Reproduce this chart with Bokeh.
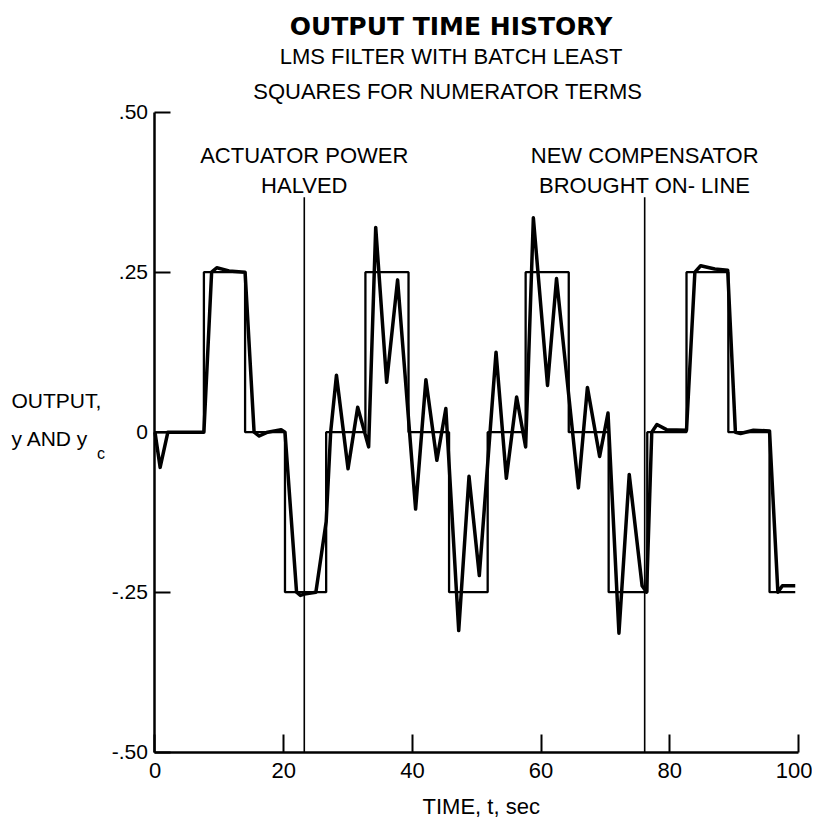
from bokeh.plotting import figure
from bokeh.models import Range1d, FixedTicker, ColumnDataSource
from bokeh.embed import file_html
from bokeh.resources import INLINE
from bokeh.core.properties import value

# ---- data ----
# command (y_c): value holds from each time until the next
cmd_t = [0, 7.6, 14.0, 20.2, 26.6, 32.7, 39.4, 45.7, 51.7, 57.6, 64.3, 70.5, 76.5, 82.6, 89.1, 95.5, 99.5]
cmd_y = [0, 0.25, 0, -0.25, 0, 0.25, 0, -0.25, 0, 0.25, 0, -0.25, 0, 0.25, 0, -0.25, -0.25]

# output y
resp_t = [0, 0.8, 2.0, 7.6, 8.8, 9.6, 11.5, 14.0, 15.4, 16.2, 17.5, 19.6, 20.2,
          22.0, 22.6, 23.2, 25.0, 26.6, 27.3, 28.2, 30.0, 31.5, 33.2, 34.3, 36.0,
          37.7, 40.5, 42.1, 43.8, 45.2, 47.2, 48.8, 50.4, 53.0, 54.6, 56.2, 57.6,
          58.8, 61.0, 62.4, 65.8, 67.2, 69.1, 70.4, 72.1, 73.7, 75.7, 76.4, 77.2,
          78.0, 79.5, 82.6, 83.9, 84.8, 87.0, 89.0, 90.2, 91.0, 93.0, 95.5, 96.8,
          97.5, 99.5]
resp_y = [0, -0.055, 0.0, 0.0, 0.25, 0.257, 0.252, 0.25, 0.0, -0.006, 0.0, 0.004, 0.0,
          -0.25, -0.255, -0.253, -0.25, -0.14, 0.0, 0.089, -0.057, 0.039, -0.023, 0.32, 0.078,
          0.238, -0.12, 0.082, -0.044, 0.037, -0.31, -0.069, -0.224, 0.125, -0.072, 0.055, -0.023,
          0.335, 0.073, 0.24, -0.087, 0.070, -0.038, 0.030, -0.314, -0.066, -0.24, -0.25, 0.0,
          0.012, 0.004, 0.003, 0.25, 0.26, 0.255, 0.253, 0.0, -0.002, 0.003, 0.002, -0.25,
          -0.24, -0.24]

event_t = [23.2, 76.1]
event_top = [0.367, 0.367]
event_line1 = ["ACTUATOR POWER", "NEW COMPENSATOR"]
event_line2 = ["HALVED", "BROUGHT ON- LINE"]

x_ticks = [0, 20, 40, 60, 80, 100]
y_ticks = [-0.5, -0.25, 0, 0.25, 0.5]
y_tick_labels = ["-.50", "-.25", "0", ".25", ".50"]

title_lines = ["OUTPUT TIME HISTORY", "LMS FILTER WITH BATCH LEAST", "SQUARES FOR NUMERATOR TERMS"]
y_label_lines = ["OUTPUT,", "y AND y", "c"]
x_label = "TIME, t, sec"

FONT = "Liberation Sans"

# frame covers the whole canvas; axes are drawn at fixed data locations
p = figure(width=812, height=818, x_range=Range1d(-24.01, 102.18), y_range=Range1d(-0.6036, 0.6745),
           output_backend="svg", toolbar_location=None, min_border=0)
p.title = None
p.outline_line_color = None
p.grid.visible = False
p.background_fill_color = "white"
p.border_fill_color = "white"

xa = p.xaxis[0]
xa.fixed_location = -0.5
xa.bounds = (0, 100)
xa.ticker = FixedTicker(ticks=x_ticks)
xa.major_tick_in = 18
xa.major_tick_out = 0
xa.minor_tick_line_color = None
xa.axis_line_width = 2.5
xa.major_tick_line_width = 2
xa.major_label_text_font = FONT
xa.major_label_text_font_size = "22px"
xa.major_label_text_color = "black"
xa.major_label_standoff = 11
xa.axis_line_color = "black"
xa.major_tick_line_color = "black"

ya = p.yaxis[0]
ya.fixed_location = 0
ya.bounds = (-0.5, 0.5)
ya.ticker = FixedTicker(ticks=y_ticks)
ya.major_label_overrides = dict(zip(y_ticks, y_tick_labels))
ya.major_tick_in = 16
ya.major_tick_out = 0
ya.minor_tick_line_color = None
ya.axis_line_width = 2.5
ya.major_tick_line_width = 2
ya.major_label_text_font = FONT
ya.major_label_text_font_size = "21px"
ya.major_label_text_color = "black"
ya.major_label_standoff = 7
ya.axis_line_color = "black"
ya.major_tick_line_color = "black"

# command and response
p.step(cmd_t, cmd_y, mode="after", line_width=2.3, line_color="black")
p.line(resp_t, resp_y, line_width=3.5, line_color="black", line_join="round")

# event lines and annotations
ev = ColumnDataSource(dict(x=event_t, top=event_top, bottom=[-0.5] * len(event_t),
                           l1=event_line1, l2=event_line2))
p.segment(x0="x", y0="bottom", x1="x", y1="top", source=ev, line_width=1.6, line_color="black")
common = dict(text_baseline="alphabetic", text_font=value(FONT), text_color="black")
p.text(x="x", y="top", text="l1", source=ev, y_offset=-42, text_align="center",
       text_font_size="22px", **common)
p.text(x="x", y="top", text="l2", source=ev, y_offset=-12, text_align="center",
       text_font_size="22px", **common)

# titles
p.text(x=[46], y=[0.634], text=[title_lines[0]], text_align="center", text_baseline="alphabetic",
       text_font=value("DejaVu Sans"), text_font_style="bold", text_font_size="25px", text_color="black")
p.text(x=[46], y=[0.587], text=[title_lines[1]], text_align="center", text_font_size="22px", **common)
p.text(x=[45.5], y=[0.532], text=[title_lines[2]], text_align="center", text_font_size="22px", **common)

# axis titles
p.text(x=[-22.3], y=[0.0495], text=[y_label_lines[0]], text_align="left", text_font_size="21px", **common)
p.text(x=[-22.3], y=[-0.0098], text=[y_label_lines[1]], text_align="left", text_font_size="21px", **common)
p.text(x=[-9.0], y=[-0.033], text=[y_label_lines[2]], text_align="left", text_font_size="16px", **common)
p.text(x=[50.7], y=[-0.585], text=[x_label], text_align="center", text_font_size="22px", **common)

open("out.html", "w").write(file_html(p, INLINE))
